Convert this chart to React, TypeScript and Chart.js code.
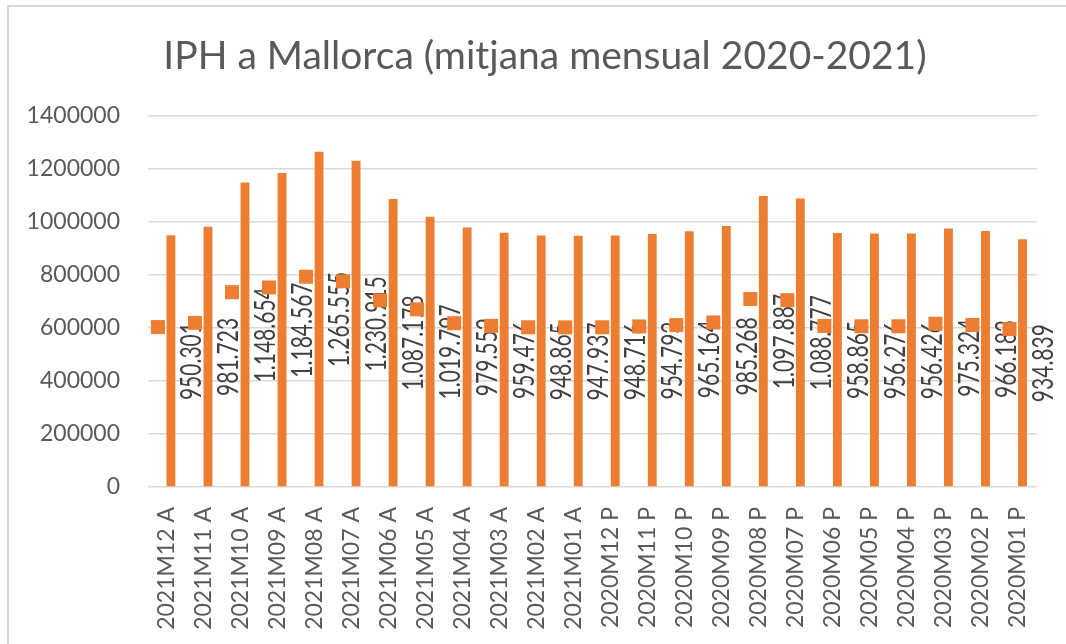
import React, { useEffect, useRef } from "react";
import { Chart, registerables } from "chart.js";

Chart.register(...registerables);

const chartTitle = "IPH a Mallorca (mitjana mensual 2020-2021)";

const categories = [
  "2021M12 A", "2021M11 A", "2021M10 A", "2021M09 A", "2021M08 A", "2021M07 A",
  "2021M06 A", "2021M05 A", "2021M04 A", "2021M03 A", "2021M02 A", "2021M01 A",
  "2020M12 P", "2020M11 P", "2020M10 P", "2020M09 P", "2020M08 P", "2020M07 P",
  "2020M06 P", "2020M05 P", "2020M04 P", "2020M03 P", "2020M02 P", "2020M01 P",
];

const iphValues = [
  950301, 981723, 1148654, 1184567, 1265555, 1230915,
  1087178, 1019797, 979552, 959476, 948865, 947937,
  948716, 954793, 965164, 985268, 1097887, 1088777,
  958865, 956276, 956426, 975324, 966183, 934839,
];

const yMin = 0;
const yMax = 1400000;
const yStep = 200000;

const ORANGE = "#ED7D31";
const AXIS_TEXT = "#595959";
const LABEL_TEXT = "#404040";
const GRID = "#d9d9d9";
const FONT = "Lato, 'Open Sans', sans-serif";

function formatCa(v: number): string {
  return String(Math.round(v)).replace(/\B(?=(\d{3})+(?!\d))/g, ".");
}

const titlePlugin = {
  id: "excelTitle",
  afterDraw(chart: any) {
    const ctx = chart.ctx as CanvasRenderingContext2D;
    ctx.save();
    ctx.font = `39px ${FONT}`;
    ctx.fillStyle = AXIS_TEXT;
    ctx.textAlign = "center";
    ctx.textBaseline = "alphabetic";
    ctx.fillText(chartTitle, 545, 69);
    ctx.restore();
  },
};

const valueLabelPlugin = {
  id: "valueLabels",
  afterDatasetsDraw(chart: any) {
    const meta = chart.getDatasetMeta(1);
    const yScale = chart.scales.y;
    const ctx = chart.ctx as CanvasRenderingContext2D;
    const fontSize = 21;
    const stretch = 1.35;
    ctx.save();
    ctx.font = `${fontSize}px ${FONT}`;
    ctx.fillStyle = LABEL_TEXT;
    ctx.textAlign = "center";
    ctx.textBaseline = "alphabetic";
    const capH = 0.72 * fontSize * stretch;
    const keys: { x: number; y: number }[] = [];
    meta.data.forEach((el: any, i: number) => {
      const v = iphValues[i];
      const text = formatCa(v);
      const yc = yScale.getPixelForValue(v / 2);
      const w = ctx.measureText(text).width;
      const bx = el.x + 20 + capH / 2;
      ctx.save();
      ctx.translate(bx, yc);
      ctx.rotate(-Math.PI / 2);
      ctx.scale(1, stretch);
      ctx.fillText(text, 0, 0);
      ctx.restore();
      keys.push({ x: el.x - 13, y: yc - w / 2 + 5 });
    });
    ctx.fillStyle = ORANGE;
    const s = 14;
    keys.forEach((k) => ctx.fillRect(k.x - s / 2, k.y - s / 2, s, s));
    ctx.restore();
  },
};

export default function App() {
  const canvasRef = useRef<HTMLCanvasElement | null>(null);

  useEffect(() => {
    if (!canvasRef.current) return;
    const chart = new Chart(canvasRef.current, {
      type: "bar",
      data: {
        labels: categories,
        datasets: [
          {
            label: "",
            data: [],
            backgroundColor: ORANGE,
          },
          {
            label: "IPH",
            data: iphValues,
            backgroundColor: ORANGE,
            borderWidth: 0,
          },
        ],
      },
      options: {
        responsive: false,
        animation: false,
        devicePixelRatio: 1,
        layout: { padding: { left: 0, right: 16, top: 116, bottom: 0 } },
        datasets: { bar: { categoryPercentage: 0.479, barPercentage: 1 } },
        plugins: {
          legend: { display: false },
          tooltip: { enabled: false },
          title: { display: false },
        },
        scales: {
          x: {
            grid: { display: false, drawTicks: false },
            border: { display: false },
            ticks: {
              autoSkip: false,
              maxRotation: 90,
              minRotation: 90,
              padding: 20,
              color: AXIS_TEXT,
              font: { family: FONT, size: 23 },
            },
            afterFit: (scale: any) => {
              scale.height = 157;
            },
          },
          y: {
            min: yMin,
            max: yMax,
            grid: { color: GRID, lineWidth: 1.5, drawTicks: false },
            border: { display: false },
            ticks: {
              stepSize: yStep,
              padding: 28,
              color: AXIS_TEXT,
              font: { family: FONT, size: 23 },
              callback: (v: any) => String(v),
            },
            afterFit: (scale: any) => {
              scale.width = 148;
            },
          },
        },
      },
      plugins: [valueLabelPlugin, titlePlugin],
    });
    return () => chart.destroy();
  }, []);

  return (
    <div
      style={{
        position: "fixed",
        left: 0,
        top: 0,
        width: 1066,
        height: 644,
        overflow: "hidden",
        background: "#ffffff",
      }}
    >
      <div
        style={{
          position: "absolute",
          left: 7,
          top: 5,
          width: 1200,
          height: 800,
          borderLeft: "2px solid #d9d9d9",
          borderTop: "2px solid #d9d9d9",
          boxSizing: "border-box",
        }}
      />
      <canvas
        ref={canvasRef}
        width={1066}
        height={644}
        style={{ position: "absolute", left: 0, top: 0, display: "block" }}
      />
    </div>
  );
}
